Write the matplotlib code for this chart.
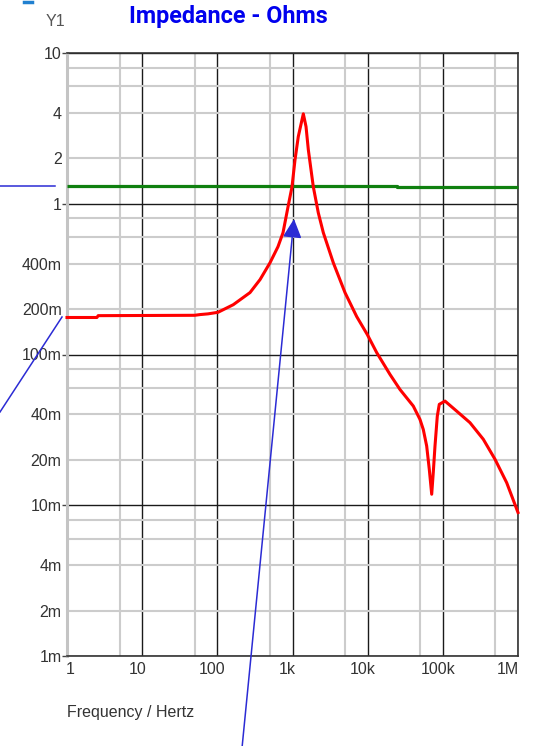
import matplotlib
matplotlib.use("Agg")
import matplotlib.pyplot as plt
from matplotlib.transforms import ScaledTranslation
from matplotlib.lines import Line2D
import numpy as np

# ---------------- data ----------------
freq_red = [1, 2.5, 2.6, 50, 58.8, 75, 102, 163, 272, 370, 502, 641, 748, 872, 985,
            1080, 1194, 1393, 1513, 1624, 1891, 2204, 2570, 3491, 4993, 7140, 9890,
            13180, 19800, 26900, 40450, 49650, 54950, 60970, 66050, 71100, 74650,
            78650, 84400, 89700, 106800, 152900, 229700, 345300, 494000, 707600, 1000000]
z_red = [0.176, 0.176, 0.181, 0.182, 0.184, 0.186, 0.1905, 0.214, 0.2575, 0.314, 0.406,
         0.519, 0.643, 0.955, 1.297, 1.956, 2.79, 3.95, 3.25, 2.28, 1.297, 0.871, 0.643,
         0.406, 0.2575, 0.1786, 0.1356, 0.103, 0.0738, 0.0586, 0.0455, 0.0371, 0.0318,
         0.0247, 0.0173, 0.01183, 0.01655, 0.0247, 0.0390, 0.0467, 0.0491, 0.0421,
         0.0353, 0.0274, 0.0202, 0.0141, 0.00895]

freq_green = [1, 24500, 1000000]
z_green = [1.315, 1.29, 1.29]

x_major = [1, 10, 100, 1e3, 1e4, 1e5, 1e6]
x_major_labels = ["1", "10", "100", "1k", "10k", "100k", "1M"]
x_minor = [5, 50, 500, 5e3, 5e4, 5e5]

y_major = [1e-3, 1e-2, 1e-1, 1, 10]
y_major_labels = ["1m", "10m", "100m", "1", "10"]
y_minor = [2e-3, 4e-3, 6e-3, 8e-3, 2e-2, 4e-2, 6e-2, 8e-2, 0.2, 0.4, 0.6, 0.8, 2, 4, 6, 8]
y_minor_labels = ["2m", "4m", "", "", "20m", "40m", "", "", "200m", "400m", "", "",
                  "2", "4", "", ""]

title = "Impedance - Ohms"
xlabel = "Frequency / Hertz"
ylabel = "Y1"

# ---------------- figure ----------------
W, H = 535, 746
fig = plt.figure(figsize=(W / 100, H / 100), dpi=100)
plt.rcParams['font.family'] = ['Liberation Sans', 'DejaVu Sans']

ax = fig.add_axes([67 / W, 1 - 656 / H, (518 - 67) / W, (656 - 53) / H])
ax.set_xscale('log')
ax.set_yscale('log')
ax.set_xlim(1, 1e6)
ax.set_ylim(1e-3, 10)

tick_color = '#333333'
ax.set_xticks(x_major, x_major_labels)
ax.set_xticks(x_minor, [""] * len(x_minor), minor=True)
ax.set_yticks(y_major, y_major_labels)
ax.set_yticks(y_minor, y_minor_labels, minor=True)

ax.tick_params(axis='x', which='both', length=0, pad=4, labelsize=11.5, labelcolor=tick_color)
ax.tick_params(axis='y', which='major', length=3.6, width=1.0, color='#444444', pad=0.3,
               labelsize=11.5, labelcolor=tick_color)
ax.tick_params(axis='y', which='minor', length=0, pad=3.9, labelsize=11.5, labelcolor=tick_color)

ax.grid(True, which='major', color='#1a1a1a', lw=1.0)
ax.grid(True, which='minor', color='#cccccc', lw=1.5)
ax.set_axisbelow(True)

for s in ['top', 'right', 'bottom']:
    ax.spines[s].set_color('#333333')
    ax.spines[s].set_linewidth(1.2)
ax.spines['left'].set_color('#c4c4c4')
ax.spines['left'].set_linewidth(2.2)

# x tick label offsets
labs = ax.get_xticklabels()
for i, lab in enumerate(labs):
    if i == 0:
        lab.set_ha('left')
        lab.set_transform(lab.get_transform() + ScaledTranslation(-1 / 100, 0, fig.dpi_scale_trans))
    elif i == len(labs) - 1:
        lab.set_ha('right')
        lab.set_transform(lab.get_transform() + ScaledTranslation(1 / 100, 0, fig.dpi_scale_trans))
    else:
        lab.set_transform(lab.get_transform() + ScaledTranslation(-5 / 100, 0, fig.dpi_scale_trans))

ax.plot(freq_green, z_green, color='#0f800f', lw=2.3, drawstyle='steps-post',
        solid_capstyle='butt', zorder=3, clip_on=False)
ax.plot(freq_red, z_red, color='#ff0000', lw=2.2, zorder=4, clip_on=False)

# ---------------- texts ----------------
fig.text(228 / W, 1 - 17 / H, title, ha='center', va='center', color='#0000ee',
         fontsize=16.8, fontweight='bold', family=['Roboto', 'Liberation Sans'])
fig.text(55 / W, 1 - 21 / H, ylabel, ha='center', va='center', color='#555555', fontsize=11.5)
fig.text(67 / W, 1 - 712 / H, xlabel, ha='left', va='center', color='#333333', fontsize=11.5)

# ---------------- annotations (blue) ----------------
blue = '#2b2bd4'
fig.add_artist(Line2D([0 / W, 55 / W], [1 - 186 / H, 1 - 186 / H], color=blue, lw=1.1,
                      transform=fig.transFigure))
fig.add_artist(Line2D([0 / W, 62 / W], [1 - 412 / H, 1 - 317 / H], color=blue, lw=1.1,
                      transform=fig.transFigure))
fig.add_artist(Line2D([24 / W, 32 / W], [1 - 1.5 / H, 1 - 1.5 / H], color='#2080d0', lw=2.5,
                      transform=fig.transFigure))
ax.annotate('', xy=(294 / W, 1 - 219 / H), xytext=(242 / W, 1 - 748 / H),
            xycoords='figure fraction', textcoords='figure fraction',
            arrowprops=dict(arrowstyle='-|>,head_length=1.15,head_width=0.58',
                            mutation_scale=10, color=blue, lw=1.1,
                            shrinkA=0, shrinkB=0), annotation_clip=False)

fig.savefig('out.png', dpi=100)
